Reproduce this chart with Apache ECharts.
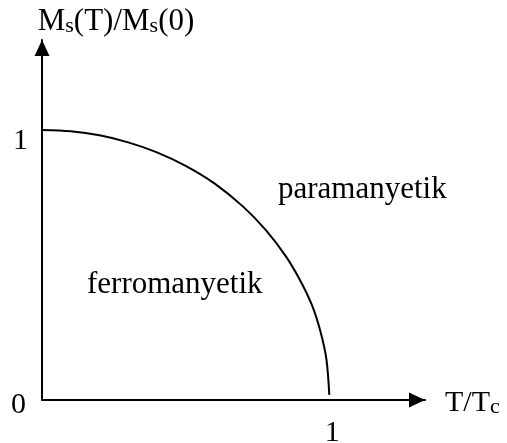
<!DOCTYPE html>
<html><head><meta charset="utf-8">
<script src="https://cdn.jsdelivr.net/npm/echarts@6/dist/echarts.min.js"></script>
<style>html,body{margin:0;padding:0;background:#fff}#c{width:507px;height:443px}</style>
</head><body><div id="c"></div>
<script>
// T/Tc values (x) and Ms(T)/Ms(0) values (y)
const tRatio = [0, 0.10, 0.20, 0.30, 0.40, 0.50, 0.60, 0.70, 0.78, 0.85, 0.90, 0.94, 0.97, 0.99, 1.0];
const mRatio = [1.0, 0.995, 0.980, 0.954, 0.917, 0.867, 0.802, 0.716, 0.628, 0.530, 0.440, 0.350, 0.250, 0.150, 0.019];
const xTicks = [1];
const yTicks = [0, 1];
const xTickLabels = ['1'];
const yTickLabels = ['0', '1'];
const regionLabels = ['ferromanyetik', 'paramanyetik'];

const FONT = '"Liberation Serif", "Times New Roman", serif';
const chart = echarts.init(document.getElementById('c'));
const axisLine = {
  show: true,
  lineStyle: { color: '#000', width: 2 },
  symbol: ['none', 'triangle'],
  symbolSize: [15, 16],
  symbolOffset: [0, -8]
};
const sub = { fontFamily: FONT, fontSize: 22, color: '#000', verticalAlign: 'bottom', lineHeight: 16 };
chart.setOption({
  animation: false,
  backgroundColor: '#fff',
  grid: { left: 42, right: 82, top: 40, bottom: 43, containLabel: false, outerBoundsMode: 'none' },
  xAxis: {
    type: 'value', min: 0, max: 1.333,
    axisLine: axisLine,
    axisTick: { show: false },
    splitLine: { show: false },
    axisLabel: {
      customValues: xTicks,
      formatter: v => xTickLabels[xTicks.indexOf(v)],
      color: '#000', fontFamily: FONT, fontSize: 30,
      margin: 18, padding: [0, 0, 0, 6]
    },
    name: '{m|T/T}{c|c}',
    nameLocation: 'end',
    nameGap: 20,
    nameTextStyle: {
      color: '#000', fontFamily: FONT, fontSize: 30, verticalAlign: 'middle', align: 'left',
      padding: [6, 0, 0, 0],
      rich: { m: { fontFamily: FONT, fontSize: 30, color: '#000', verticalAlign: 'bottom' }, c: sub }
    }
  },
  yAxis: {
    type: 'value', min: 0, max: 1.333,
    axisLine: axisLine,
    axisTick: { show: false },
    splitLine: { show: false },
    axisLabel: {
      customValues: yTicks,
      formatter: v => (v === 0 ? '{z|' : '{o|') + yTickLabels[yTicks.indexOf(v)] + '}',
      color: '#000', fontFamily: FONT, fontSize: 30,
      margin: 14,
      rich: {
        z: { fontFamily: FONT, fontSize: 30, color: '#000', padding: [10, 2, 0, 0] },
        o: { fontFamily: FONT, fontSize: 30, color: '#000', padding: [22, 0, 0, 0] }
      }
    },
    name: '{m|M}{s|s}{m|(T)/M}{s|s}{m|(0)}',
    nameLocation: 'end',
    nameGap: 3,
    nameTextStyle: {
      color: '#000', fontFamily: FONT, fontSize: 31, align: 'center', verticalAlign: 'bottom',
      padding: [0, 0, 0, 148],
      rich: { m: { fontFamily: FONT, fontSize: 31, color: '#000', verticalAlign: 'bottom' }, s: sub }
    }
  },
  series: [{
    type: 'line',
    data: tRatio.map((t, i) => [t, mRatio[i]]),
    smooth: 0.3,
    showSymbol: false,
    lineStyle: { color: '#000', width: 2 }
  }],
  graphic: [
    { type: 'text', left: 87, top: 269, style: { text: regionLabels[0], font: '31px ' + FONT, fill: '#000' } },
    { type: 'text', left: 278, top: 174, style: { text: regionLabels[1], font: '31px ' + FONT, fill: '#000' } }
  ]
});
</script></body></html>
